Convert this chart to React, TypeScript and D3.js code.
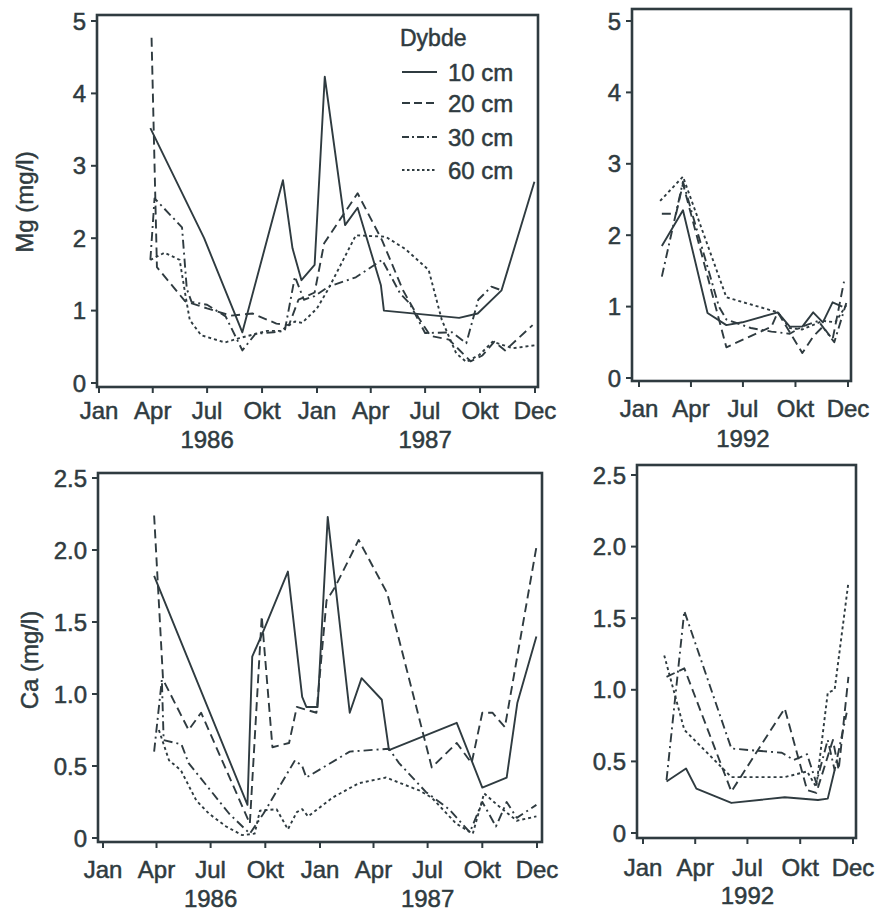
import React from "react";
import * as d3 from "d3";

// ---- data ----
const depths = ["10 cm", "20 cm", "30 cm", "60 cm"];
const monthLabels = ["Jan", "Apr", "Jul", "Okt", "Jan", "Apr", "Jul", "Okt", "Dec"];
const monthLabels1yr = ["Jan", "Apr", "Jul", "Okt", "Dec"];
const mgTicks = [0, 1, 2, 3, 4, 5];
const caTicks = [0, 0.5, 1, 1.5, 2, 2.5];
const caTickLabels = ["0", "0.5", "1.0", "1.5", "2.0", "2.5"];

// Mg 1986-87
const mgA10: [string, number][] = [
  ["1986-03-28", 3.52], ["1986-06-26", 2.0], ["1986-08-29", 0.7], ["1986-11-05", 2.8],
  ["1986-11-21", 1.86], ["1986-12-06", 1.42], ["1986-12-28", 1.63], ["1987-01-14", 4.23],
  ["1987-02-17", 2.18], ["1987-03-10", 2.42], ["1987-04-18", 1.35], ["1987-04-23", 1.0],
  ["1987-08-27", 0.9], ["1987-09-27", 0.96], ["1987-11-06", 1.28], ["1987-12-31", 2.78],
];
const mgA20: [string, number][] = [
  ["1986-03-30", 4.77], ["1986-04-08", 1.6], ["1986-05-25", 1.13], ["1986-07-01", 1.03],
  ["1986-08-10", 0.93], ["1986-09-15", 0.96], ["1986-10-25", 0.82], ["1986-11-15", 0.8],
  ["1986-12-01", 1.15], ["1986-12-12", 1.19], ["1986-12-28", 1.25], ["1987-01-13", 1.93],
  ["1987-03-10", 2.62], ["1987-04-20", 1.97], ["1987-05-25", 1.28], ["1987-06-20", 0.9],
  ["1987-07-10", 0.65], ["1987-08-10", 0.6], ["1987-09-15", 0.3], ["1987-10-05", 0.38],
  ["1987-10-25", 0.57], ["1987-11-12", 0.45], ["1987-12-28", 0.8],
];
const mgA30: [string, number][] = [
  ["1986-03-28", 1.7], ["1986-04-04", 2.55], ["1986-05-20", 2.15], ["1986-05-28", 1.3],
  ["1986-06-05", 1.12], ["1986-07-01", 1.08], ["1986-08-01", 0.92], ["1986-08-29", 0.45],
  ["1986-09-20", 0.68], ["1986-10-20", 0.7], ["1986-11-08", 0.72], ["1986-11-25", 1.47],
  ["1986-12-10", 1.15], ["1986-12-28", 1.2], ["1987-01-20", 1.33], ["1987-03-07", 1.46],
  ["1987-04-20", 1.7], ["1987-05-20", 1.24], ["1987-06-05", 1.1], ["1987-07-01", 0.69],
  ["1987-08-15", 0.7], ["1987-09-08", 0.55], ["1987-09-28", 1.15], ["1987-10-20", 1.33],
  ["1987-11-06", 1.28],
];
const mgA60: [string, number][] = [
  ["1986-03-28", 1.7], ["1986-04-21", 1.8], ["1986-05-16", 1.7], ["1986-05-27", 1.15],
  ["1986-06-02", 0.87], ["1986-06-21", 0.66], ["1986-07-31", 0.56], ["1986-08-24", 0.62],
  ["1986-10-10", 0.72], ["1986-11-01", 0.72], ["1986-11-25", 0.85], ["1986-12-07", 0.83],
  ["1987-01-01", 1.03], ["1987-01-20", 1.3], ["1987-03-07", 2.04], ["1987-04-26", 2.02],
  ["1987-05-29", 1.85], ["1987-07-07", 1.56], ["1987-07-29", 0.87], ["1987-08-22", 0.41],
  ["1987-09-08", 0.29], ["1987-09-30", 0.39], ["1987-10-22", 0.57], ["1987-11-25", 0.48],
  ["1987-12-31", 0.52],
];

// Mg 1992
const mgB10: [string, number][] = [
  ["1992-02-10", 1.85], ["1992-03-18", 2.35], ["1992-04-30", 0.91], ["1992-06-02", 0.74],
  ["1992-06-30", 0.78], ["1992-08-31", 0.92], ["1992-09-21", 0.72], ["1992-10-13", 0.72],
  ["1992-11-01", 0.92], ["1992-11-18", 0.78], ["1992-12-05", 1.06], ["1992-12-22", 1.0],
];
const mgB20: [string, number][] = [
  ["1992-02-10", 2.3], ["1992-03-06", 2.3], ["1992-03-18", 2.72], ["1992-06-02", 0.43],
  ["1992-08-20", 0.72], ["1992-08-31", 0.92], ["1992-10-13", 0.35], ["1992-11-01", 0.58],
  ["1992-11-18", 0.72], ["1992-12-05", 0.54], ["1992-12-25", 1.35],
];
const mgB30: [string, number][] = [
  ["1992-02-10", 1.42], ["1992-03-18", 2.75], ["1992-05-20", 1.0], ["1992-06-02", 0.82],
  ["1992-07-15", 0.7], ["1992-08-20", 0.65], ["1992-09-21", 0.62], ["1992-10-13", 0.72],
  ["1992-11-10", 0.8], ["1992-12-08", 0.5], ["1992-12-29", 1.05],
];
const mgB60: [string, number][] = [
  ["1992-02-07", 2.48], ["1992-03-18", 2.82], ["1992-06-02", 1.13], ["1992-08-31", 0.92],
  ["1992-09-21", 0.7], ["1992-10-13", 0.68], ["1992-11-18", 0.8], ["1992-12-10", 0.78],
  ["1992-12-29", 1.02],
];

// Ca 1986-87
const caA10: [string, number][] = [
  ["1986-03-28", 1.82], ["1986-09-01", 0.23], ["1986-09-09", 1.26], ["1986-09-26", 1.42],
  ["1986-11-08", 1.85], ["1986-12-02", 0.98], ["1986-12-09", 0.91], ["1986-12-28", 0.91],
  ["1987-01-14", 2.23], ["1987-02-20", 0.87], ["1987-03-12", 1.11], ["1987-04-15", 0.96],
  ["1987-04-27", 0.61], ["1987-08-19", 0.8], ["1987-10-01", 0.35], ["1987-11-11", 0.42],
  ["1987-11-29", 0.94], ["1987-12-31", 1.4],
];
const caA20: [string, number][] = [
  ["1986-03-28", 2.24], ["1986-04-12", 1.1], ["1986-05-25", 0.75], ["1986-06-15", 0.87],
  ["1986-09-05", 0.1], ["1986-09-25", 1.54], ["1986-10-13", 0.63], ["1986-11-10", 0.66],
  ["1986-11-23", 0.91], ["1986-12-26", 0.87], ["1987-01-12", 1.65], ["1987-01-26", 1.74],
  ["1987-03-07", 2.07], ["1987-04-24", 1.7], ["1987-07-08", 0.49], ["1987-08-19", 0.66],
  ["1987-09-13", 0.52], ["1987-10-01", 0.87], ["1987-10-18", 0.87], ["1987-11-08", 0.77],
  ["1987-12-31", 2.02],
];
const caA30: [string, number][] = [
  ["1986-03-28", 0.6], ["1986-04-10", 1.1], ["1986-04-13", 0.68], ["1986-05-13", 0.65],
  ["1986-05-25", 0.52], ["1986-08-01", 0.17], ["1986-09-05", 0.03], ["1986-09-28", 0.17],
  ["1986-11-20", 0.54], ["1986-12-02", 0.5], ["1986-12-09", 0.42], ["1987-02-20", 0.6],
  ["1987-04-27", 0.62], ["1987-05-14", 0.52], ["1987-06-28", 0.32], ["1987-08-06", 0.2],
  ["1987-09-10", 0.04], ["1987-10-01", 0.25], ["1987-10-24", 0.08], ["1987-11-11", 0.25],
  ["1987-11-28", 0.14], ["1987-12-31", 0.23],
];
const caA60: [string, number][] = [
  ["1986-04-05", 0.75], ["1986-04-22", 0.54], ["1986-05-12", 0.47], ["1986-06-07", 0.26],
  ["1986-06-28", 0.17], ["1986-07-27", 0.08], ["1986-08-23", 0.02], ["1986-09-13", 0.03],
  ["1986-09-22", 0.19], ["1986-10-20", 0.2], ["1986-11-08", 0.06], ["1986-11-23", 0.18],
  ["1986-12-02", 0.2], ["1986-12-12", 0.15], ["1987-01-22", 0.28], ["1987-03-07", 0.38],
  ["1987-04-22", 0.42], ["1987-06-17", 0.33], ["1987-07-08", 0.28], ["1987-08-18", 0.1],
  ["1987-09-15", 0.03], ["1987-10-04", 0.31], ["1987-10-29", 0.22], ["1987-11-28", 0.12],
  ["1987-12-31", 0.15],
];

// Ca 1992
const caB10: [string, number][] = [
  ["1992-02-11", 0.36], ["1992-03-16", 0.45], ["1992-04-03", 0.31], ["1992-06-03", 0.21],
  ["1992-09-04", 0.25], ["1992-11-01", 0.23], ["1992-11-18", 0.24], ["1992-11-30", 0.44],
];
const caB20: [string, number][] = [
  ["1992-02-11", 1.09], ["1992-03-13", 1.15], ["1992-06-03", 0.29], ["1992-09-04", 0.87],
  ["1992-10-13", 0.3], ["1992-10-29", 0.28], ["1992-11-27", 0.65], ["1992-12-07", 0.44],
  ["1992-12-24", 1.09],
];
const caB30: [string, number][] = [
  ["1992-02-11", 0.37], ["1992-03-13", 1.55], ["1992-06-03", 0.59], ["1992-08-30", 0.56],
  ["1992-09-20", 0.51], ["1992-10-13", 0.55], ["1992-10-29", 0.35], ["1992-11-18", 0.65],
  ["1992-11-30", 0.44], ["1992-12-21", 0.84],
];
const caB60: [string, number][] = [
  ["1992-02-07", 1.24], ["1992-03-13", 0.72], ["1992-04-12", 0.6], ["1992-06-03", 0.39],
  ["1992-09-04", 0.39], ["1992-10-13", 0.43], ["1992-10-29", 0.32], ["1992-11-18", 0.98],
  ["1992-11-30", 1.0], ["1992-12-24", 1.75],
];

// ---- styling ----
const INK = "#2f3b40";
const FONT = "'Liberation Sans', Arial, Helvetica, sans-serif";
const dashes = [null, "9,5", "9,4,2,4", "3,3"];
const parse = d3.timeParse("%Y-%m-%d");
// scanned print looks heavier than a plain regular weight
const txt = { fill: INK, fontFamily: FONT, fontSize: 24, stroke: INK, strokeWidth: 0.5 };

type Box = { l: number; t: number; r: number; b: number };

function Panel(props: {
  box: Box;
  xRange: [number, number];
  years: [number, number];
  yRange: [number, number];
  yTicks: number[];
  yTickLabels?: string[];
  xLabels: string[];
  yearLabels: { text: string; at: string }[];
  series: [string, number][][];
  monthY: number;
  yearY: number;
}) {
  const { box, xRange, years, yRange, yTicks, yTickLabels, xLabels, yearLabels, series } = props;
  const x = d3
    .scaleTime()
    .domain([new Date(years[0], 0, 1), new Date(years[1], 0, 1)])
    .range(xRange);
  const y = d3
    .scaleLinear()
    .domain([0, yTicks[yTicks.length - 1]])
    .range(yRange);
  const xTicks = x.ticks(d3.timeMonth.every(3) as any);
  const line = d3
    .line<[string, number]>()
    .x((d) => x(parse(d[0]) as Date))
    .y((d) => y(d[1]));

  return (
    <g>
      {series.map((s, i) => (
        <path
          key={i}
          d={line(s) || ""}
          fill="none"
          stroke={INK}
          strokeWidth={1.9}
          strokeDasharray={dashes[i] || undefined}
          strokeLinejoin="round"
        />
      ))}
      <rect
        x={box.l}
        y={box.t}
        width={box.r - box.l}
        height={box.b - box.t}
        fill="none"
        stroke={INK}
        strokeWidth={2.6}
      />
      {yTicks.map((v, i) => (
        <g key={"y" + i}>
          <line x1={box.l - 6} x2={box.l} y1={y(v)} y2={y(v)} stroke={INK} strokeWidth={2} />
          <text x={box.l - 11} y={y(v)} dy="0.36em" textAnchor="end" {...txt}>
            {yTickLabels ? yTickLabels[i] : String(v)}
          </text>
        </g>
      ))}
      {xTicks.map((d, i) => (
        <g key={"x" + i}>
          <line x1={x(d)} x2={x(d)} y1={box.b} y2={box.b + 6} stroke={INK} strokeWidth={2} />
          <text x={x(d)} y={props.monthY} textAnchor="middle" {...txt}>
            {xLabels[i]}
          </text>
        </g>
      ))}
      {yearLabels.map((yl, i) => (
        <text
          key={"yr" + i}
          x={x(parse(yl.at) as Date)}
          y={props.yearY}
          textAnchor="middle"
          {...txt}
        >
          {yl.text}
        </text>
      ))}
    </g>
  );
}

export default function App() {
  const legendRows = [72, 103, 137, 170];
  return (
    <svg
      width={884}
      height={912}
      style={{ position: "absolute", left: 0, top: 0, background: "#fff" }}
    >
      <Panel
        box={{ l: 97, t: 15, r: 538, b: 387 }}
        xRange={[99, 535]}
        years={[1986, 1988]}
        yRange={[383, 21]}
        yTicks={mgTicks}
        xLabels={monthLabels}
        yearLabels={[
          { text: "1986", at: "1986-07-01" },
          { text: "1987", at: "1987-07-01" },
        ]}
        series={[mgA10, mgA20, mgA30, mgA60]}
        monthY={419}
        yearY={448}
      />
      <Panel
        box={{ l: 632, t: 9, r: 851, b: 381 }}
        xRange={[639, 848]}
        years={[1992, 1993]}
        yRange={[378, 21]}
        yTicks={mgTicks}
        xLabels={monthLabels1yr}
        yearLabels={[{ text: "1992", at: "1992-07-01" }]}
        series={[mgB10, mgB20, mgB30, mgB60]}
        monthY={417}
        yearY={447}
      />
      <Panel
        box={{ l: 98, t: 473, r: 542, b: 842 }}
        xRange={[103, 537]}
        years={[1986, 1988]}
        yRange={[838, 478]}
        yTicks={caTicks}
        yTickLabels={caTickLabels}
        xLabels={monthLabels}
        yearLabels={[
          { text: "1986", at: "1986-07-01" },
          { text: "1987", at: "1987-07-01" },
        ]}
        series={[caA10, caA20, caA30, caA60]}
        monthY={878}
        yearY={907}
      />
      <Panel
        box={{ l: 637, t: 465, r: 856, b: 838 }}
        xRange={[643, 853]}
        years={[1992, 1993]}
        yRange={[833, 475]}
        yTicks={caTicks}
        yTickLabels={caTickLabels}
        xLabels={monthLabels1yr}
        yearLabels={[{ text: "1992", at: "1992-07-01" }]}
        series={[caB10, caB20, caB30, caB60]}
        monthY={876}
        yearY={904}
      />

      {/* y axis titles */}
      <text transform="translate(33,202) rotate(-90)" textAnchor="middle" {...txt}>
        Mg (mg/l)
      </text>
      <text transform="translate(38,660) rotate(-90)" textAnchor="middle" {...txt}>
        Ca (mg/l)
      </text>

      {/* legend */}
      <text x={400} y={46} {...txt} fontSize={23}>
        Dybde
      </text>
      {depths.map((d, i) => (
        <g key={d}>
          <line
            x1={402}
            x2={437}
            y1={legendRows[i]}
            y2={legendRows[i]}
            stroke={INK}
            strokeWidth={1.9}
            strokeDasharray={i === 1 ? "8,4" : i === 2 ? "7,3,2,3" : i === 3 ? "2.5,2.5" : undefined}
          />
          <text x={448} y={legendRows[i]} dy="0.36em" {...txt}>
            {d}
          </text>
        </g>
      ))}
    </svg>
  );
}
